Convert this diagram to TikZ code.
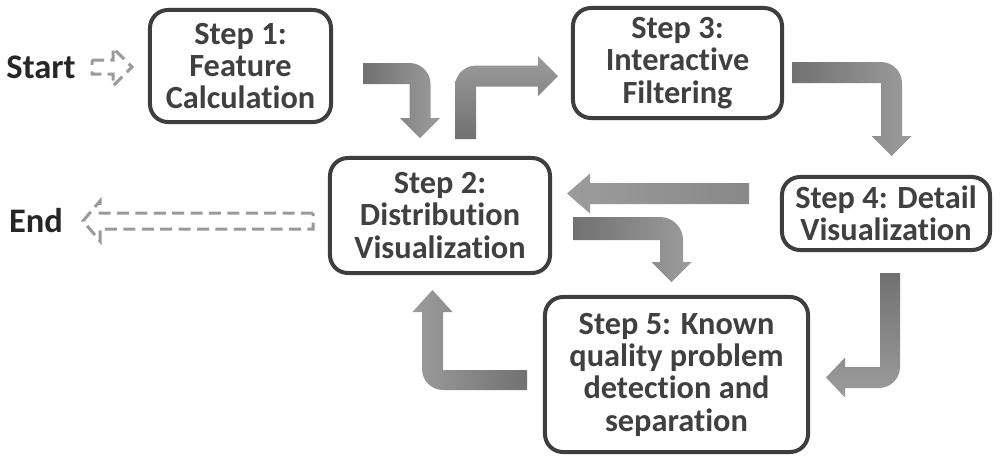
\documentclass[tikz,border=0pt]{standalone}
\usepackage{fontspec}
\setmainfont{Carlito}[Ligatures=NoCommon]
\usepackage{xcolor}

\definecolor{boxgray}{HTML}{3E3E3E}
\definecolor{textgray}{HTML}{404040}
\definecolor{arrdark}{HTML}{717171}
\definecolor{arrmid}{HTML}{888888}
\definecolor{arrlight}{HTML}{9C9C9C}
\definecolor{dashgray}{HTML}{9A9A9A}

\tikzset{
  stepbox/.style={draw=boxgray, line width=1mm, rounded corners=4.5mm, align=center,
    text=textgray, inner sep=0pt, font=\bfseries\fontsize{23}{23}\selectfont},
  endtext/.style={text=black!85, inner sep=0pt, font=\bfseries\fontsize{24.5}{24.5}\selectfont},
  openarrow/.style={draw=dashgray, line width=0.75mm, dash pattern=on 3mm off 1.6mm, line join=miter}
}

\begin{document}
\begin{tikzpicture}[x=0.025cm, y=-0.025cm]
\useasboundingbox (0,0) rectangle (1002,462);

% the five steps
\node[stepbox, minimum width=4.525cm, minimum height=2.8cm] (s1) at (240.5,66) {Step 1:\\Feature\\Calculation};
\node[stepbox, minimum width=5.5cm, minimum height=2.875cm] (s2) at (440,215.5) {Step 2:\\Distribution\\Visualization};
\node[stepbox, minimum width=5.225cm, minimum height=2.75cm] (s3) at (677.5,63) {Step 3:\\Interactive\\Filtering};
\node[stepbox, minimum width=5.2cm, minimum height=1.825cm] (s4) at (886,213.5) {Step 4: Detail\\Visualization};
\node[stepbox, minimum width=6.575cm, minimum height=3.875cm] (s5) at (676.5,374.5) {Step 5: Known\\quality problem\\detection and\\separation};

\node[endtext] (startlbl) at (41,67) {Start};
\node[endtext] (endlbl) at (36,221) {End};

% tails of the block arrows
\coordinate (t12) at (363,63);
\coordinate (t23) at (455,139);
\coordinate (t34) at (792,62);
\coordinate (t42) at (749,183);
\coordinate (t25) at (573,217);
\coordinate (t45) at (880,273);
\coordinate (t52) at (527,370);
\coordinate (tst) at (92,60);
\coordinate (tend) at (313,213);

% step 1 -> step 2
\shade[left color=arrdark, right color=arrlight] (t12) -- ++(46.5,0) .. controls +(11.6,0) and +(0,-11.6) .. ++(21,21)
  -- ++(0,34) -- ++(9.5,0) -- ++(-20,20) -- ++(-20,-20) -- ++(9.5,0) -- ++(0,-34) -- ++(-46.5,0) -- cycle;

% step 2 -> step 3
\shade[bottom color=arrdark, top color=arrlight] (t23) -- ++(0,-52.5) .. controls +(0,-11.6) and +(-11.6,0) .. ++(21,-21)
  -- ++(62,0) -- ++(0,-9.5) -- ++(20,20) -- ++(-20,20) -- ++(0,-9.5) -- ++(-62,0) -- ++(0,52.5) -- cycle;

% step 3 -> step 4
\shade[left color=arrdark, right color=arrlight] (t34) -- ++(89,0) .. controls +(11.6,0) and +(0,-11.6) .. ++(21,21)
  -- ++(0,53) -- ++(9.5,0) -- ++(-20,20) -- ++(-20,-20) -- ++(9.5,0) -- ++(0,-53) -- ++(-89,0) -- cycle;

% step 4 -> step 2
\shade[left color=arrlight, right color=arrmid] (t42) -- ++(-159,0) -- ++(0,-9.5) -- ++(-23,20) -- ++(23,20)
  -- ++(0,-9.5) -- ++(159,0) -- cycle;

% step 2 -> step 5
\shade[left color=arrdark, right color=arrlight] (t25) -- ++(87,0) .. controls +(12.7,0) and +(0,-12.7) .. ++(23,23)
  -- ++(0,22) -- ++(8.5,0) -- ++(-20,20) -- ++(-20,-20) -- ++(8.5,0) -- ++(0,-22) -- ++(-87,0) -- cycle;

% step 4 -> step 5
\shade[top color=arrdark, bottom color=arrlight] (t45) -- ++(20,0) -- ++(0,94) .. controls +(0,11.6) and +(11.6,0) .. ++(-21,21)
  -- ++(-34,0) -- ++(0,9.5) -- ++(-19,-20) -- ++(19,-20) -- ++(0,9.5) -- ++(35,0) -- cycle;

% step 5 -> step 2
\shade[left color=arrlight, right color=arrdark] (t52) -- ++(-84,0) -- ++(0,-58) -- ++(9.5,0) -- ++(-20,-22) -- ++(-20,22)
  -- ++(9.5,0) -- ++(0,57) .. controls +(0,11.6) and +(-11.6,0) .. ++(21,21) -- ++(84,0) -- cycle;

% start and end
\draw[openarrow] (tst) -- ++(21,0) -- ++(0,-12) -- ++(19,19) -- ++(-19,19) -- ++(0,-12) -- ++(-21,0) -- cycle;
\draw[openarrow] (tend) -- ++(-213,0) -- ++(0,-12) -- ++(-17,20) -- ++(17,20) -- ++(0,-12) -- ++(213,0) -- cycle;

\end{tikzpicture}
\end{document}
